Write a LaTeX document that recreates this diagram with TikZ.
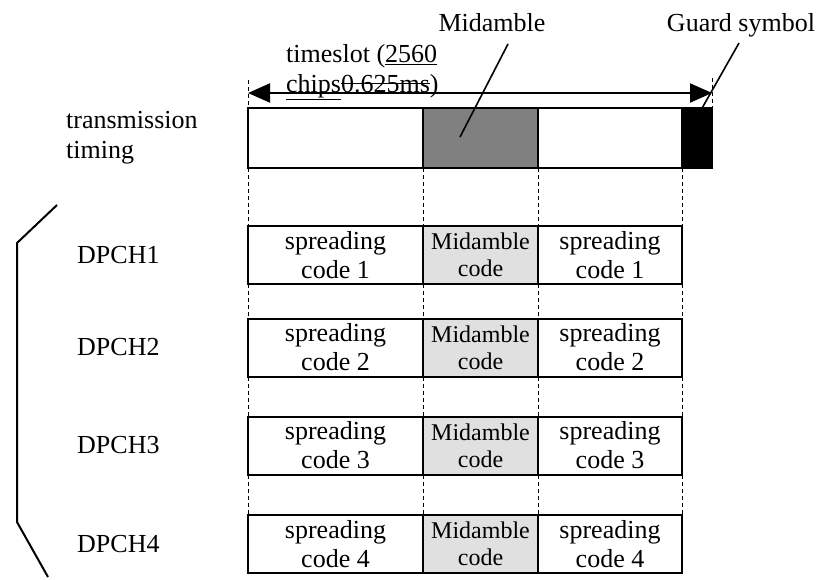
\documentclass[tikz,border=0pt]{standalone}
\usepackage{fontspec}
\setmainfont{Liberation Serif}
\usetikzlibrary{arrows.meta}
\definecolor{midgray}{RGB}{128,128,128}
\definecolor{codegray}{RGB}{224,224,224}
\newcommand{\strikeout}[1]{\setbox0\hbox{#1}\rlap{\rule[0.3em]{\wd0}{1pt}}\box0}
\tikzset{
  cell/.style={draw, line width=2pt, fill=white, inner sep=0pt, outer sep=0pt,
    minimum height=58pt, align=center, font=\fontsize{26}{29}\selectfont},
  midcell/.style={cell, fill=codegray, font=\fontsize{24}{27}\selectfont},
  guide/.style={dash pattern=on 4pt off 3pt, line width=0.9pt},
  txt/.style={font=\fontsize{26}{30}\selectfont, inner sep=0pt},
  pointer/.style={line width=1.6pt},
}
\begin{document}
\begin{tikzpicture}[x=1pt,y=-1pt]
      \useasboundingbox (0,0) rectangle (818,579);
      % transmission timing
      \node[txt, anchor=west, align=left] (tt) at (66,138) {transmission\\timing};
      \node[cell, minimum width=175pt, minimum height=60pt] (ta) at (335.5,138) {};
      \node[cell, fill=midgray, minimum width=115pt, minimum height=60pt] (tb) at (480.5,138) {};
      \node[cell, minimum width=144pt, minimum height=60pt] (tc) at (610,138) {};
      \node[cell, fill=black, minimum width=30pt, minimum height=60pt] (tg) at (697,138) {};
      % timeslot
      \node[txt, anchor=west, align=left] (slot) at (286,72) {timeslot (\underline{2560}\\\underline{chips}\strikeout{0.625ms})};
      \coordinate (gl) at (248,80);
      \coordinate (gr) at (712,78);
      \coordinate (al) at (248,93);
      \coordinate (ar) at (712,93);
      \draw[guide] (gl) -- (ta.north west);
      \draw[guide] (gr) -- (tg.north east);
      \draw[{Triangle[length=22pt,width=19pt]}-{Triangle[length=22pt,width=19pt]}, line width=2pt] (al) -- (ar);
      % Midamble and Guard symbol
      \node[txt, anchor=base] (midl) at (492,31) {Midamble};
      \coordinate (m1) at (508,44);
      \coordinate (m2) at (460,137);
      \draw[pointer] (m1) -- (m2);
      \node[txt, anchor=base] (guardl) at (741,31) {Guard symbol};
      \coordinate (g1) at (739,43);
      \coordinate (g2) at (701,110);
      \draw[pointer] (g1) -- (g2);
      % DPCH1
      \node[txt, anchor=west] (d1) at (77,255) {DPCH1};
      \node[cell, minimum width=175pt] (r1a) at (335.5,255) {spreading\\code 1};
      \node[midcell, minimum width=115pt] (r1b) at (480.5,255) {Midamble\\code};
      \node[cell, minimum width=144pt] (r1c) at (610,255) {spreading\\code 1};
      % DPCH2
      \node[txt, anchor=west] (d2) at (77,347.5) {DPCH2};
      \node[cell, minimum width=175pt] (r2a) at (335.5,347.5) {spreading\\code 2};
      \node[midcell, minimum width=115pt] (r2b) at (480.5,347.5) {Midamble\\code};
      \node[cell, minimum width=144pt] (r2c) at (610,347.5) {spreading\\code 2};
      % DPCH3
      \node[txt, anchor=west] (d3) at (77,445.5) {DPCH3};
      \node[cell, minimum width=175pt] (r3a) at (335.5,445.5) {spreading\\code 3};
      \node[midcell, minimum width=115pt] (r3b) at (480.5,445.5) {Midamble\\code};
      \node[cell, minimum width=144pt] (r3c) at (610,445.5) {spreading\\code 3};
      % DPCH4
      \node[txt, anchor=west] (d4) at (77,544) {DPCH4};
      \node[cell, minimum width=175pt] (r4a) at (335.5,544) {spreading\\code 4};
      \node[midcell, minimum width=115pt] (r4b) at (480.5,544) {Midamble\\code};
      \node[cell, minimum width=144pt] (r4c) at (610,544) {spreading\\code 4};
      % guide lines between the rows
      \foreach \u/\v in {t/r1,r1/r2,r2/r3,r3/r4} {
        \draw[guide] (\u a.south west) -- (\v a.north west);
        \draw[guide] (\u b.south west) -- (\v b.north west);
        \draw[guide] (\u c.south west) -- (\v c.north west);
        \draw[guide] (\u c.south east) -- (\v c.north east);
      }
      % bracket
      \coordinate (b1) at (57,205);
      \coordinate (b2) at (17,243);
      \coordinate (b3) at (17,522);
      \coordinate (b4) at (48,577);
      \draw[line width=2pt] (b1) -- (b2) -- (b3) -- (b4);
    \end{tikzpicture}
\end{document}
